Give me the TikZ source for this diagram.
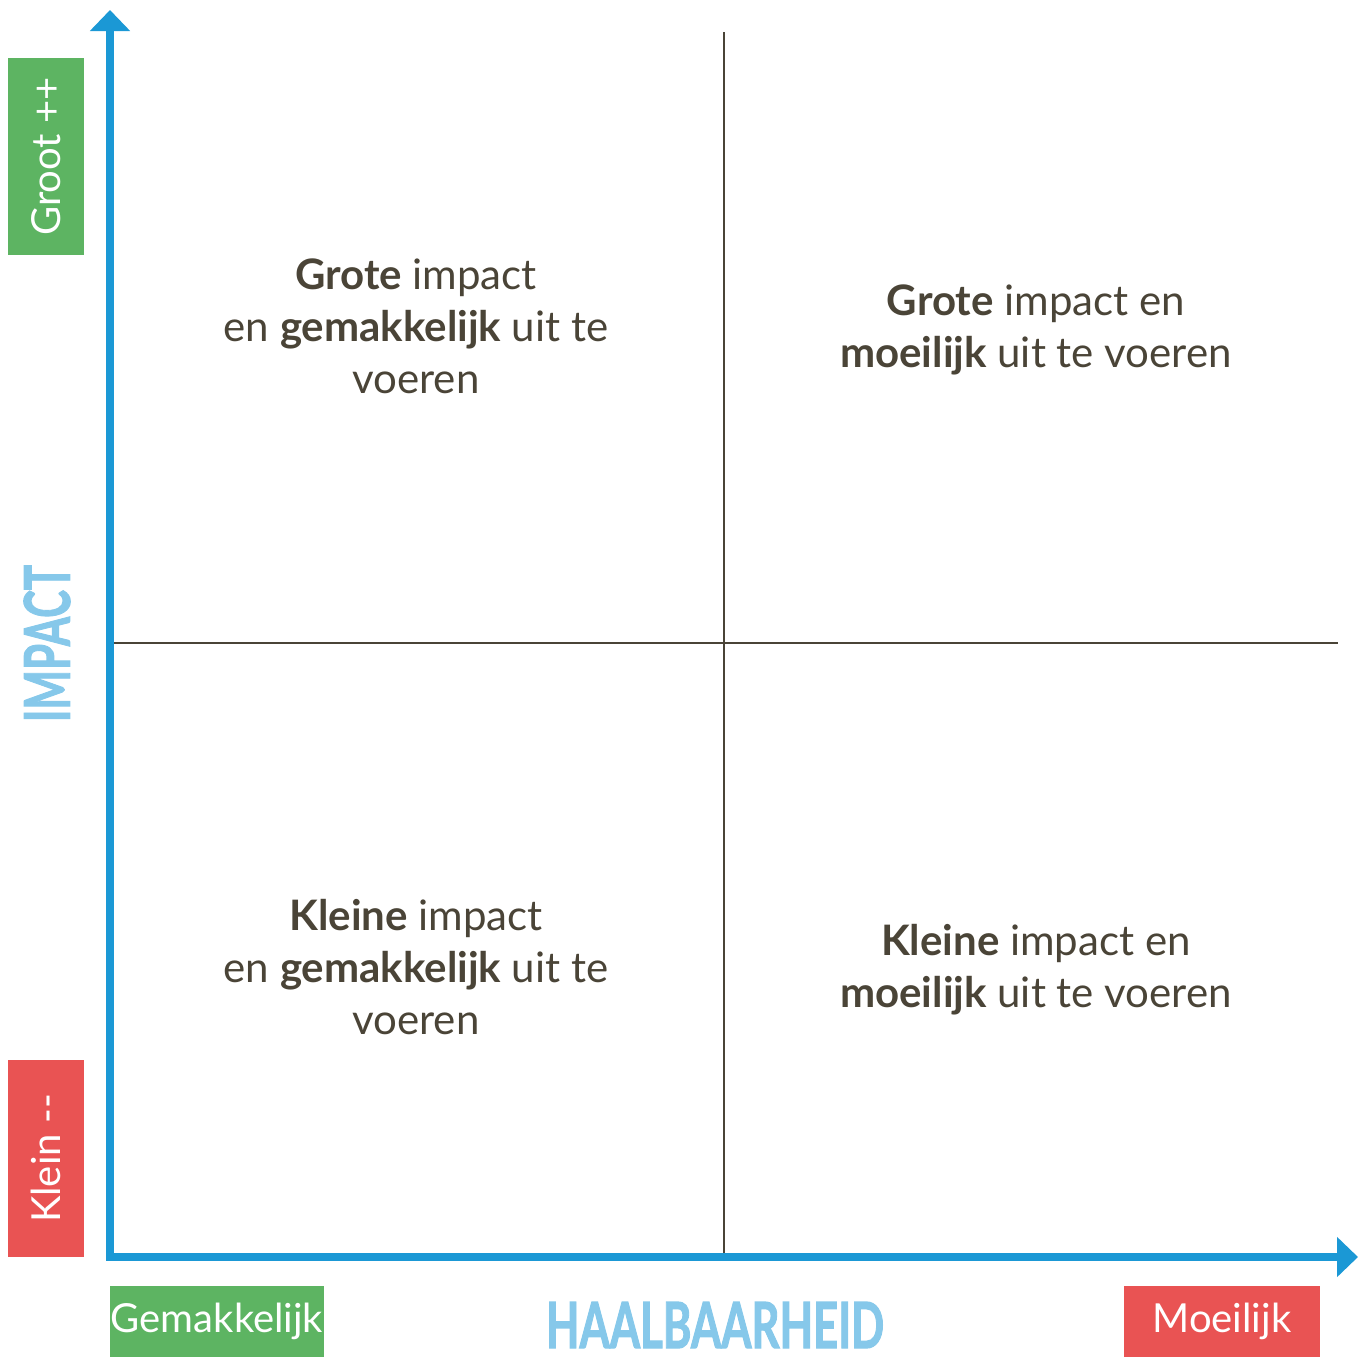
\documentclass[tikz,border=0pt]{standalone}
\usepackage{fontspec}
\setmainfont{Lato}
\newfontfamily\titlefont[FakeBold=2]{Lato}
\usepackage{graphicx}
\usepackage{tikz}
\usetikzlibrary{arrows.meta}
\usepackage{xcolor}
\definecolor{axisBlue}{HTML}{1B98D5}
\definecolor{titleBlue}{HTML}{86C8EA}
\definecolor{textBrown}{HTML}{4A4437}
\definecolor{boxGreen}{HTML}{5DB462}
\definecolor{boxRed}{HTML}{E95353}
\tikzset{
    QuadText/.style={font=\fontsize{42}{52}\selectfont, text=textBrown, align=center},
    AxisTitle/.style={font=\titlefont\bfseries, text=titleBlue, inner sep=0pt},
    EndBox/.style={font=\fontsize{40}{48}\selectfont, text=white, inner sep=0pt},
    AxisArrow/.style={{Triangle[width=39pt,length=21pt]}-{Triangle[width=39pt,length=21pt]}, axisBlue, line width=8pt},
    GridLine/.style={textBrown, line width=2pt}
}
\begin{document}
\begin{tikzpicture}[x=1pt, y=-1pt]
    \useasboundingbox (0,0) rectangle (1363,1357);

    % kwadranten
    \coordinate (gt) at (724,32);
    \coordinate (gb) at (724,1257);
    \coordinate (gl) at (110,643);
    \coordinate (gr) at (1338,643);
    \draw[GridLine] (gt) -- (gb);
    \draw[GridLine] (gl) -- (gr);

    % assen
    \coordinate (ytip) at (110,10);
    \coordinate (xtip) at (1358,1257);
    \draw[AxisArrow] (ytip) |- (xtip);

    \node[QuadText] (ggem) at (416,326) {\textbf{Grote} impact\\en \textbf{gemakkelijk} uit te\\voeren};
    \node[QuadText] (gmoe) at (1036,330) {\textbf{Grote} impact en\\\textbf{moeilijk} uit te voeren};
    \node[QuadText] (kgem) at (416,967) {\textbf{Kleine} impact\\en \textbf{gemakkelijk} uit te\\voeren};
    \node[QuadText] (kmoe) at (1036,970) {\textbf{Kleine} impact en\\\textbf{moeilijk} uit te voeren};

    % labels langs de assen
    \node[EndBox, fill=boxGreen, rotate=90, minimum width=197pt, minimum height=76pt] (groot) at (46,156.5) {Groot ++};
    \node[EndBox, fill=boxRed, rotate=90, minimum width=197pt, minimum height=76pt] (klein) at (46,1158.5) {Klein -{}-};
    \node[EndBox, fill=boxGreen, minimum width=214pt, minimum height=71pt] (makkelijk) at (217,1321.5) {Gemakkelijk};
    \node[EndBox, fill=boxRed, minimum width=196pt, minimum height=71pt] (moeilijk) at (1222,1321.5) {Moeilijk};

    \node[AxisTitle, rotate=90] (impact) at (47,643.5) {\resizebox{157pt}{46pt}{IMPACT}};
    \node[AxisTitle] (haalbaar) at (715,1325) {\resizebox{338pt}{46pt}{HAALBAARHEID}};
\end{tikzpicture}
\end{document}
